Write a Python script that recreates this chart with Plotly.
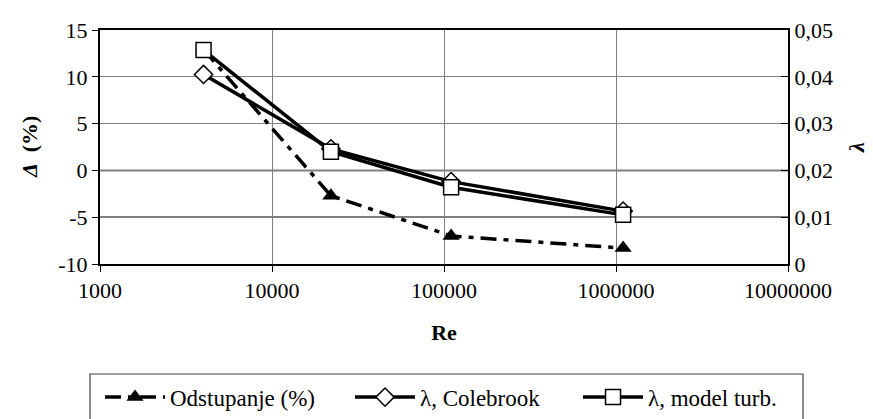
import plotly.graph_objects as go

re_vals = [4000, 22000, 110000, 1100000]
odstupanje = [12.9, -2.7, -7.0, -8.3]
lam_colebrook = [0.0405, 0.0246, 0.0176, 0.0113]
lam_model = [0.0457, 0.0240, 0.0164, 0.0105]

x_tickvals = [1000, 10000, 100000, 1000000, 10000000]
x_ticktext = ["1000", "10000", "100000", "1000000", "10000000"]
y1_tickvals = [-10, -5, 0, 5, 10, 15]
y1_ticktext = ["-10", "-5", "0", "5", "10", "15"]
y2_tickvals = [0, 0.01, 0.02, 0.03, 0.04, 0.05]
y2_ticktext = ["0", "0,01", "0,02", "0,03", "0,04", "0,05"]

FONT = "'Liberation Serif', 'Times New Roman', 'DejaVu Serif', serif"
TS = 22
LS = 23

fig = go.Figure()
fig.add_trace(go.Scatter(
    x=re_vals, y=odstupanje, name="Odstupanje (%)", mode="lines+markers",
    line=dict(color="black", width=3.5, dash="16px,7px,5px,7px"),
    marker=dict(symbol="triangle-up", size=15, color="black"),
    yaxis="y", legend="legend"))
fig.add_trace(go.Scatter(
    x=re_vals, y=lam_colebrook, name="λ, Colebrook", mode="lines+markers",
    line=dict(color="black", width=3.5),
    marker=dict(symbol="diamond", size=14, color="white", line=dict(color="black", width=1.5)),
    yaxis="y2", legend="legend2"))
fig.add_trace(go.Scatter(
    x=re_vals, y=lam_model, name="λ, model turb.", mode="lines+markers",
    line=dict(color="black", width=3.5),
    marker=dict(symbol="square", size=15, color="white", line=dict(color="black", width=1.5)),
    yaxis="y2", legend="legend3"))

legend_common = dict(orientation="h", xanchor="left", y=-0.569, yanchor="middle",
                     borderwidth=0, bgcolor="rgba(0,0,0,0)",
                     font=dict(family=FONT, size=LS), itemwidth=60)

fig.update_layout(
    width=873, height=419,
    margin=dict(l=92, r=93, t=22, b=163, autoexpand=False),
    paper_bgcolor="white", plot_bgcolor="white",
    font=dict(family=FONT, size=TS, color="black"),
    showlegend=True,
    legend=dict(x=0.0, **legend_common),
    legend2=dict(x=0.3634, **legend_common),
    legend3=dict(x=0.6948, **legend_common),
    xaxis=dict(type="log", range=[3, 7], tickvals=x_tickvals, ticktext=x_ticktext,
               showgrid=True, gridcolor="#808080", gridwidth=1,
               showline=True, linecolor="black", linewidth=2, mirror=True,
               ticks="outside", ticklen=6, tickcolor="black",
               title=dict(text="<b>Re</b>", font=dict(family=FONT, size=TS), standoff=22),
               tickfont=dict(family=FONT, size=TS)),
    yaxis=dict(range=[-10, 15], tickvals=y1_tickvals, ticktext=y1_ticktext,
               showgrid=True, gridcolor="#808080", gridwidth=1, zeroline=False,
               showline=True, linecolor="black", linewidth=2,
               ticks="outside", ticklen=6, tickcolor="black",
               tickfont=dict(family=FONT, size=TS)),
    yaxis2=dict(range=[0, 0.05], tickvals=y2_tickvals, ticktext=y2_ticktext,
                overlaying="y", side="right", showgrid=False, zeroline=False,
                showline=True, linecolor="black", linewidth=2,
                ticks="inside", ticklen=7, tickcolor="black",
                title=dict(text="<b><i>λ</i></b>", font=dict(family=FONT, size=TS), standoff=17),
                tickfont=dict(family=FONT, size=TS)),
    annotations=[
        dict(text="<b><i>Δ</i>  (%)</b>", xref="paper", yref="paper",
             x=-0.1032, y=0.5, xanchor="center", yanchor="middle",
             textangle=-90, showarrow=False, font=dict(family=FONT, size=TS)),
    ],
    shapes=[
        dict(type="line", xref="paper", x0=0, x1=1, yref="y", y0=0, y1=0,
             line=dict(color="black", width=1.5), layer="below"),
        dict(type="line", xref="paper", x0=0, x1=1, yref="y", y0=-5, y1=-5,
             line=dict(color="black", width=1.5), layer="below"),
        dict(type="rect", xref="paper", yref="paper", x0=-0.0145, x1=1.0218,
             y0=-0.47, y1=-0.76, line=dict(color="#404040", width=1.2),
             fillcolor="rgba(0,0,0,0)"),
    ],
)

fig.write_html("out.html")
